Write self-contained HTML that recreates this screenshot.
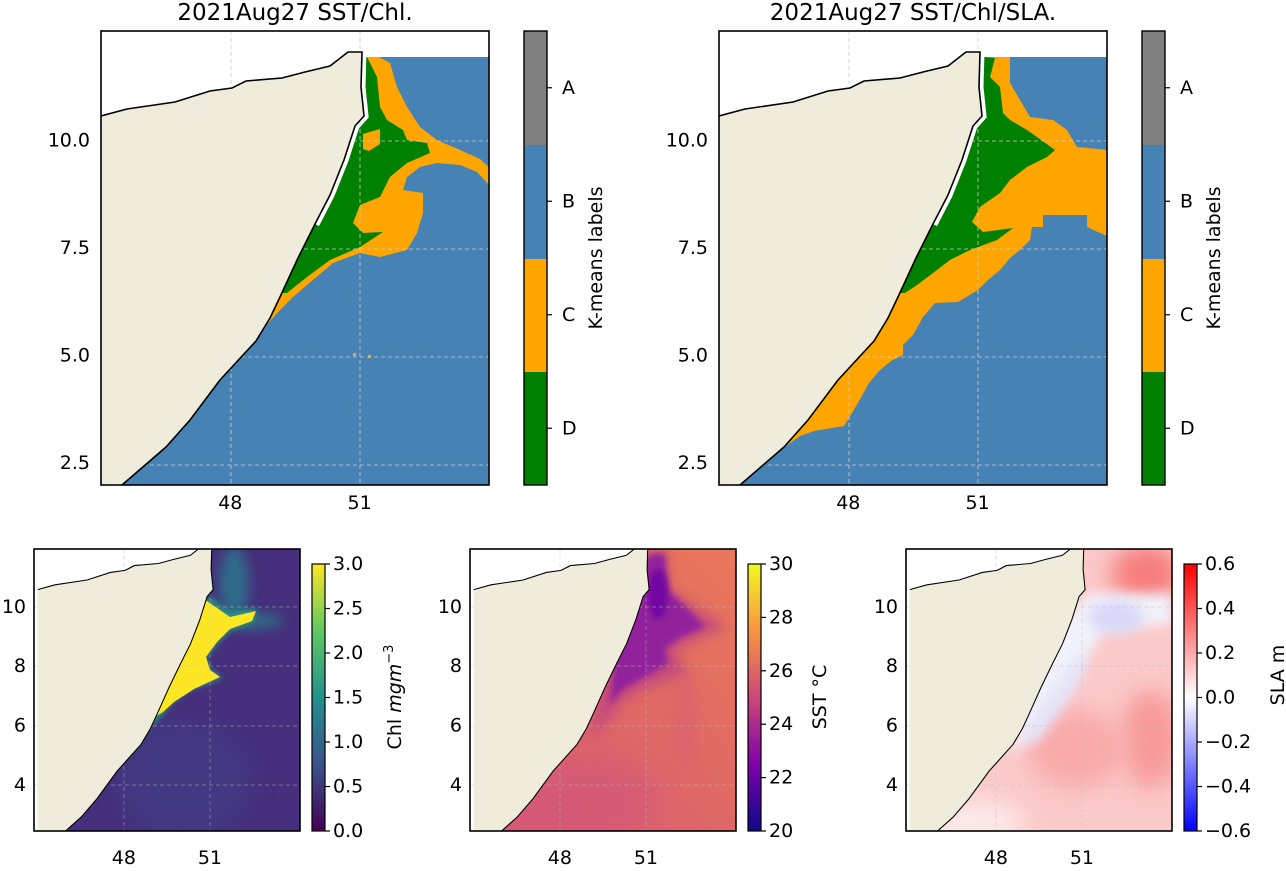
<!DOCTYPE html>
<html><head><meta charset="utf-8">
<style>
html,body{margin:0;padding:0;background:#fff;}
svg{display:block;font-family:"DejaVu Sans","Liberation Sans",sans-serif;}
</style></head>
<body>
<svg id="fig" width="1286" height="871" viewBox="0 0 1286 871" xmlns="http://www.w3.org/2000/svg">
<defs>
  <polygon id="land" points="0,85 26,78 74,71 109,60 131,57 145,50 181,47 204,41 229,35 247,21 261,21 260,56 263,85 254,95 243,129 229,164 214,193 197,227 179,266 169,287 155,310 119,349 89,389 65,416 21,454 0,470"/>
  <polyline id="coast" points="0,85 26,78 74,71 109,60 131,57 145,50 181,47 204,41 229,35 247,21 261,21 260,56 263,85 254,95 243,129 229,164 214,193 197,227 179,266 169,287 155,310 119,349 89,389 65,416 21,454 5,470"/>
  <clipPath id="clipTop"><rect x="0" y="0" width="388" height="454"/></clipPath>
  <clipPath id="seaTop"><polygon points="262,-40 420,-40 420,500 21,500 21,454 65,416 89,389 119,349 155,310 169,287 179,266 197,227 214,193 229,164 243,129 254,95 263,85 260,56 261,21"/></clipPath>
  <clipPath id="clipBot"><rect x="0" y="0" width="266" height="282"/></clipPath>
  <clipPath id="seaBot"><polygon transform="translate(3.7,-17.8) scale(0.667,0.6875)" points="262,-40 420,-40 420,500 21,500 21,454 65,416 89,389 119,349 155,310 169,287 179,266 197,227 214,193 229,164 243,129 254,95 263,85 260,56 261,21"/></clipPath>
  <filter id="b3" x="-50%" y="-50%" width="200%" height="200%"><feGaussianBlur stdDeviation="3"/></filter>
  <filter id="b6" x="-50%" y="-50%" width="200%" height="200%"><feGaussianBlur stdDeviation="6"/></filter>
  <filter id="b12" x="-50%" y="-50%" width="200%" height="200%"><feGaussianBlur stdDeviation="12"/></filter>
  <linearGradient id="gViridis" x1="0" y1="1" x2="0" y2="0">
    <stop offset="0" stop-color="#440154"/><stop offset="0.25" stop-color="#3b528b"/><stop offset="0.5" stop-color="#21918c"/><stop offset="0.75" stop-color="#5ec962"/><stop offset="1" stop-color="#fde725"/>
  </linearGradient>
  <linearGradient id="gPlasma" x1="0" y1="1" x2="0" y2="0">
    <stop offset="0" stop-color="#0d0887"/><stop offset="0.25" stop-color="#7e03a8"/><stop offset="0.5" stop-color="#cc4778"/><stop offset="0.75" stop-color="#f89540"/><stop offset="1" stop-color="#f0f921"/>
  </linearGradient>
  <linearGradient id="gBwr" x1="0" y1="1" x2="0" y2="0">
    <stop offset="0" stop-color="#0000ff"/><stop offset="0.5" stop-color="#ffffff"/><stop offset="1" stop-color="#ff0000"/>
  </linearGradient>
  <linearGradient id="gSst" x1="0" y1="1" x2="1" y2="0">
    <stop offset="0" stop-color="#d4587a"/><stop offset="0.5" stop-color="#df6866"/><stop offset="1" stop-color="#e8785a"/>
  </linearGradient>
</defs>

<text x="295" y="20" text-anchor="middle" font-size="23">2021Aug27 SST/Chl.</text>
<text x="913" y="20" text-anchor="middle" font-size="23">2021Aug27 SST/Chl/SLA.</text>

<!-- Top-left map -->
<g transform="translate(101,31)">
  <g clip-path="url(#clipTop)">
    <g clip-path="url(#seaTop)">
      <rect x="0" y="26" width="388" height="428" fill="#4682b4"/>
      <polygon fill="#ffa500" points="276,25 289,32 296,56 306,76 319,96 336,109 359,119 379,128 390,138 390,156 376,141 359,134 336,132 319,136 306,146 302,159 322,162 322,182 316,202 306,219 279,226 259,222 232,232 212,249 192,266 179,279 160,300 150,300 150,26"/>
      <polygon fill="#008000" points="266,26 276,46 279,76 286,89 302,99 306,109 326,112 329,122 306,132 289,146 279,166 259,174 252,192 262,202 282,201 259,216 229,229 206,246 186,262 150,262 150,26"/>
      <polygon fill="#ffa500" points="262,103 279,98 279,113 268,120 262,118"/>
      <rect x="252" y="322" width="3" height="3" fill="#ffa500"/>
      <rect x="267" y="324" width="3" height="3" fill="#ffa500"/>
      <polyline points="261,21 260,56 263,85 254,95 243,129 229,164 214,193" fill="none" stroke="#fff" stroke-width="9"/>
      <rect x="0" y="-40" width="388" height="66" fill="#fff"/>
    </g>
    <g stroke="#ccc" stroke-dasharray="4,3" stroke-width="0.8">
      <line x1="130" y1="0" x2="130" y2="454"/><line x1="259" y1="0" x2="259" y2="454"/>
      <line x1="0" y1="110" x2="388" y2="110"/><line x1="0" y1="218" x2="388" y2="218"/><line x1="0" y1="326" x2="388" y2="326"/><line x1="0" y1="434" x2="388" y2="434"/>
    </g>
    <use href="#land" fill="#efecdc"/>
    <use href="#coast" fill="none" stroke="#000" stroke-width="1.6"/>
  </g>
  <rect x="0" y="0" width="388" height="454" fill="none" stroke="#000" stroke-width="1.6"/>
</g>

<!-- Top-right map -->
<g transform="translate(719,31)">
  <g clip-path="url(#clipTop)">
    <g clip-path="url(#seaTop)">
      <rect x="0" y="26" width="388" height="428" fill="#4682b4"/>
      <polygon fill="#ffa500" points="291,26 291,52 301,69 311,86 334,89 348,99 358,116 390,119 390,206 368,196 368,184 324,184 324,196 313,196 311,209 301,219 291,227 281,239 269,249 259,259 239,271 216,272 204,286 194,304 184,314 184,324 172,330 160,340 150,352 140,370 133,382 125,395 95,400 81,405 60,420 0,420 0,26"/>
      <polygon fill="#008000" points="266,26 276,27 271,46 281,56 284,82 291,89 308,99 318,106 336,119 328,126 308,136 291,149 281,162 261,176 253,191 264,201 294,197 278,209 251,219 231,229 214,242 198,254 186,262 150,262 150,26"/>
      <polyline points="261,21 260,56 263,85 254,95 243,129 229,164 214,193" fill="none" stroke="#fff" stroke-width="9"/>
      <rect x="0" y="-40" width="388" height="66" fill="#fff"/>
    </g>
    <g stroke="#ccc" stroke-dasharray="4,3" stroke-width="0.8">
      <line x1="130" y1="0" x2="130" y2="454"/><line x1="259" y1="0" x2="259" y2="454"/>
      <line x1="0" y1="110" x2="388" y2="110"/><line x1="0" y1="218" x2="388" y2="218"/><line x1="0" y1="326" x2="388" y2="326"/><line x1="0" y1="434" x2="388" y2="434"/>
    </g>
    <use href="#land" fill="#efecdc"/>
    <use href="#coast" fill="none" stroke="#000" stroke-width="1.6"/>
  </g>
  <rect x="0" y="0" width="388" height="454" fill="none" stroke="#000" stroke-width="1.6"/>
</g>

<!-- Top colorbars -->
<g>
  <rect x="524" y="31" width="23" height="114" fill="#808080"/>
  <rect x="524" y="145" width="23" height="114" fill="#4682b4"/>
  <rect x="524" y="259" width="23" height="113" fill="#ffa500"/>
  <rect x="524" y="372" width="23" height="113" fill="#008000"/>
  <rect x="524" y="31" width="23" height="454" fill="none" stroke="#000" stroke-width="1.4"/>
</g>
<g>
  <rect x="1142" y="31" width="23" height="114" fill="#808080"/>
  <rect x="1142" y="145" width="23" height="114" fill="#4682b4"/>
  <rect x="1142" y="259" width="23" height="113" fill="#ffa500"/>
  <rect x="1142" y="372" width="23" height="113" fill="#008000"/>
  <rect x="1142" y="31" width="23" height="454" fill="none" stroke="#000" stroke-width="1.4"/>
</g>
<text transform="translate(602,258) rotate(-90)" text-anchor="middle" font-size="19">K-means labels</text>
<text transform="translate(1220,258) rotate(-90)" text-anchor="middle" font-size="19">K-means labels</text>

<!-- Bottom map 1: Chl -->
<g transform="translate(34,549)">
  <g clip-path="url(#clipBot)">
    <g clip-path="url(#seaBot)">
      <rect x="0" y="0" width="266" height="282" fill="#462f7c"/>
      <ellipse cx="150" cy="230" rx="70" ry="60" fill="#433f86" opacity="0.6" filter="url(#b12)"/>
      <ellipse cx="200" cy="35" rx="15" ry="38" fill="#2a7a8e" opacity="0.8" filter="url(#b6)"/>
      <ellipse cx="215" cy="72" rx="35" ry="8" fill="#23988a" opacity="0.6" filter="url(#b6)"/>
      <polygon points="176,51 196,68 219,63 216,71 196,78 183,91 169,108 173,121 183,128 156,138 136,151 129,161 110,180 153,108 166,78 173,58" fill="none" stroke="#26a184" stroke-width="5" filter="url(#b3)"/>
      <polygon points="170,50 196,68 222,62 218,72 196,80 183,93 172,108 176,121 186,128 160,140 140,153 129,163 100,180 100,100 165,55" fill="#fde725"/>
    </g>
    <g stroke="#bbb" stroke-dasharray="4,3" stroke-width="0.7" opacity="0.6">
      <line x1="90" y1="0" x2="90" y2="282"/><line x1="176" y1="0" x2="176" y2="282"/>
      <line x1="0" y1="58" x2="266" y2="58"/><line x1="0" y1="117" x2="266" y2="117"/><line x1="0" y1="177" x2="266" y2="177"/><line x1="0" y1="236" x2="266" y2="236"/>
    </g>
    <g transform="translate(3.7,-17.8) scale(0.667,0.6875)">
      <use href="#land" fill="#efecdc"/>
      <use href="#coast" fill="none" stroke="#000" stroke-width="1.6" vector-effect="non-scaling-stroke"/>
    </g>
  </g>
  <rect x="0" y="0" width="266" height="282" fill="none" stroke="#000" stroke-width="1.6"/>
</g>

<!-- Bottom map 2: SST -->
<g transform="translate(470,549)">
  <g clip-path="url(#clipBot)">
    <g clip-path="url(#seaBot)">
      <rect x="0" y="0" width="266" height="282" fill="url(#gSst)"/>
      <ellipse cx="120" cy="250" rx="70" ry="40" fill="#d2577a" opacity="0.6" filter="url(#b12)"/>
      <ellipse cx="215" cy="170" rx="12" ry="50" fill="#d55e75" opacity="0.5" filter="url(#b6)"/>
      <polygon points="182,4 195,4 200,41 231,61 257,78 226,91 205,101 216,124 179,138 153,151 132,178 120,190 150,60 175,10" fill="#b0368e" opacity="0.6" filter="url(#b6)"/>
      <polygon points="182,4 195,4 198,41 220,62 235,78 212,88 195,100 198,115 175,128 153,140 140,155 150,60 175,10" fill="#8a1aa2" opacity="0.85" filter="url(#b3)"/>
      <ellipse cx="188" cy="45" rx="10" ry="25" fill="#6a05a5" opacity="0.8" filter="url(#b3)"/>
    </g>
    <g stroke="#bbb" stroke-dasharray="4,3" stroke-width="0.7" opacity="0.6">
      <line x1="90" y1="0" x2="90" y2="282"/><line x1="176" y1="0" x2="176" y2="282"/>
      <line x1="0" y1="58" x2="266" y2="58"/><line x1="0" y1="117" x2="266" y2="117"/><line x1="0" y1="177" x2="266" y2="177"/><line x1="0" y1="236" x2="266" y2="236"/>
    </g>
    <g transform="translate(3.7,-17.8) scale(0.667,0.6875)">
      <use href="#land" fill="#efecdc"/>
      <use href="#coast" fill="none" stroke="#000" stroke-width="1.6" vector-effect="non-scaling-stroke"/>
    </g>
  </g>
  <rect x="0" y="0" width="266" height="282" fill="none" stroke="#000" stroke-width="1.6"/>
</g>

<!-- Bottom map 3: SLA -->
<g transform="translate(906,549)">
  <g clip-path="url(#clipBot)">
    <g clip-path="url(#seaBot)">
      <rect x="0" y="0" width="266" height="282" fill="#fbcaca"/>
      <ellipse cx="240" cy="25" rx="35" ry="30" fill="#f77b7b" filter="url(#b12)"/>
      <ellipse cx="245" cy="190" rx="30" ry="50" fill="#f89a9a" filter="url(#b12)"/>
      <ellipse cx="170" cy="200" rx="50" ry="40" fill="#f9aaaa" filter="url(#b12)"/>
      <ellipse cx="60" cy="275" rx="60" ry="25" fill="#fde8e8" filter="url(#b12)"/>
      <path d="M180,45 L266,45 L266,75 L200,80 L160,140 L130,180 L105,210 L120,120 Z" fill="#f2f2fc" filter="url(#b6)"/>
      <ellipse cx="210" cy="68" rx="28" ry="16" fill="#d8d8f8" filter="url(#b6)"/>
      <path d="M175,100 L140,150 L115,190 L130,195 L155,160 L180,120 Z" fill="#e4e4fa" filter="url(#b6)"/>
    </g>
    <g stroke="#bbb" stroke-dasharray="4,3" stroke-width="0.7" opacity="0.6">
      <line x1="90" y1="0" x2="90" y2="282"/><line x1="176" y1="0" x2="176" y2="282"/>
      <line x1="0" y1="58" x2="266" y2="58"/><line x1="0" y1="117" x2="266" y2="117"/><line x1="0" y1="177" x2="266" y2="177"/><line x1="0" y1="236" x2="266" y2="236"/>
    </g>
    <g transform="translate(3.7,-17.8) scale(0.667,0.6875)">
      <use href="#land" fill="#efecdc"/>
      <use href="#coast" fill="none" stroke="#000" stroke-width="1.6" vector-effect="non-scaling-stroke"/>
    </g>
  </g>
  <rect x="0" y="0" width="266" height="282" fill="none" stroke="#000" stroke-width="1.6"/>
</g>

<rect x="312" y="564" width="13" height="267" fill="url(#gViridis)" stroke="#000" stroke-width="1.2"/>
<rect x="748" y="564" width="13" height="267" fill="url(#gPlasma)" stroke="#000" stroke-width="1.2"/>
<rect x="1184" y="564" width="13" height="267" fill="url(#gBwr)" stroke="#000" stroke-width="1.2"/>
<text transform="translate(401,697) rotate(-90)" text-anchor="middle" font-size="19">Chl <tspan font-style="italic">mgm</tspan><tspan font-size="13" dy="-8">−3</tspan></text>
<text transform="translate(826,697) rotate(-90)" text-anchor="middle" font-size="19">SST °C</text>
<text transform="translate(1284,675) rotate(-90)" text-anchor="middle" font-size="19">SLA m</text>

<g id="ticks"></g>
</svg>
<script>
var topLatTicks = [10.0, 7.5, 5.0, 2.5];
var topLatLabels = ["10.0", "7.5", "5.0", "2.5"];
var topLonTicks = [48, 51];
var botLatTicks = [10, 8, 6, 4];
var botLonTicks = [48, 51];
var kmeansLabels = ["A", "B", "C", "D"];
var chlTicks = [0.0, 0.5, 1.0, 1.5, 2.0, 2.5, 3.0];
var sstTicks = [20, 22, 24, 26, 28, 30];
var slaTicks = [-0.6, -0.4, -0.2, 0.0, 0.2, 0.4, 0.6];

var NS = "http://www.w3.org/2000/svg";
var g = document.getElementById("ticks");
function txt(x, y, s, anchor, size, name) {
  var t = document.createElementNS(NS, "text");
  t.setAttribute("x", x); t.setAttribute("y", y);
  t.setAttribute("text-anchor", anchor);
  t.setAttribute("font-size", size);
  t.setAttribute("dominant-baseline", "central");
  t.textContent = s;
  
  
  g.appendChild(t);
  return t;
}
function line(x1, y1, x2, y2) {
  var l = document.createElementNS(NS, "line");
  l.setAttribute("x1", x1); l.setAttribute("y1", y1); l.setAttribute("x2", x2); l.setAttribute("y2", y2);
  l.setAttribute("stroke", "#000"); l.setAttribute("stroke-width", "1.2");
  
  
  g.appendChild(l);
}
function topX(lon) { return (lon - 45) * 43.1; }
function topY(lat) { return (12.55 - lat) * 43.0; }
[101, 719].forEach(function (ox) {
  topLatTicks.forEach(function (v, i) { txt(ox - 11, 31 + topY(v), topLatLabels[i], "end", 19, "y-tick-label"); });
  topLonTicks.forEach(function (v) { txt(ox + topX(v), 503, String(v), "middle", 19, "x-tick-label"); });
});
function botX(lon) { return (lon - 44.87) * 28.7; }
function botY(lat) { return (11.95 - lat) * 29.68; }
[34, 470, 906].forEach(function (ox) {
  botLatTicks.forEach(function (v) { txt(ox - 8, 549 + botY(v), String(v), "end", 19, "y-tick-label"); });
  botLonTicks.forEach(function (v) { txt(ox + botX(v), 858, String(v), "middle", 19, "x-tick-label"); });
});
[547, 1165].forEach(function (x) {
  kmeansLabels.forEach(function (s, i) {
    var y = 31 + 454 * (i + 0.5) / kmeansLabels.length;
    line(x, y, x + 5, y);
    txt(x + 15, y, s, "start", 19, "colorbar-label");
  });
});
function cbar(x, ticks, vmin, vmax, fmt, name) {
  ticks.forEach(function (v) {
    var y = 831 - (v - vmin) / (vmax - vmin) * 267;
    line(x, y, x + 5, y);
    txt(x + 8, y, fmt(v), "start", 19, name);
  });
}
cbar(325, chlTicks, 0, 3, function (v) { return v.toFixed(1); }, "chl-tick-label");
cbar(761, sstTicks, 20, 30, function (v) { return String(v); }, "sst-tick-label");
cbar(1197, slaTicks, -0.6, 0.6, function (v) { return (v < 0 ? "−" : "") + Math.abs(v).toFixed(1); }, "sla-tick-label");
</script>
</body></html>
